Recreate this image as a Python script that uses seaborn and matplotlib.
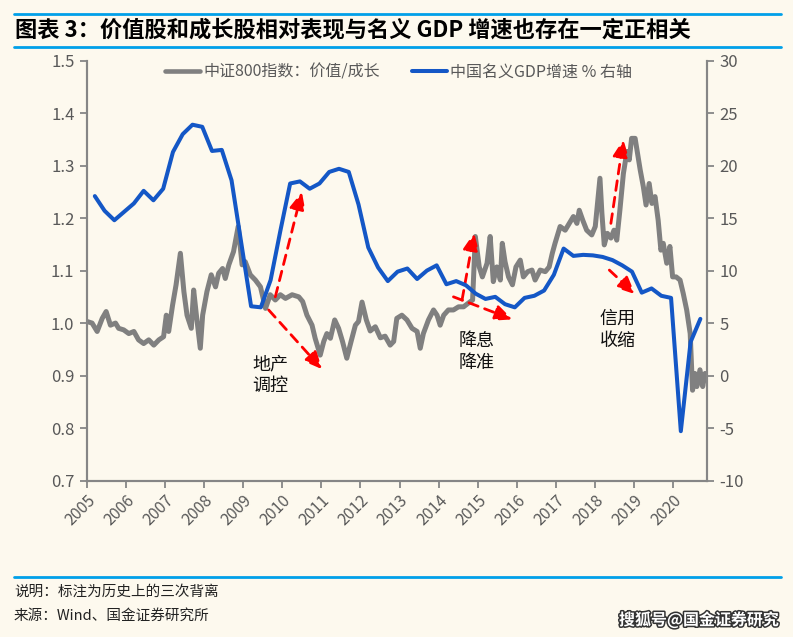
import numpy as np
import pandas as pd
import matplotlib
matplotlib.use("Agg")
import matplotlib.pyplot as plt
import seaborn as sns
from matplotlib.lines import Line2D
from matplotlib import patheffects as pe

# ---------------- data ----------------
# CSI 800 value / growth relative index (left axis): decimal year, value
ratio_t = [2005.00, 2005.13, 2005.26, 2005.39, 2005.49, 2005.60, 2005.73, 2005.81, 2005.94, 2006.07,
           2006.20, 2006.32, 2006.45, 2006.58, 2006.71, 2006.84, 2006.96, 2007.03, 2007.09, 2007.19,
           2007.28, 2007.39, 2007.48, 2007.56, 2007.67, 2007.73, 2007.80, 2007.90, 2007.96, 2008.07,
           2008.18, 2008.29, 2008.37, 2008.47, 2008.54, 2008.63, 2008.75, 2008.87, 2008.97, 2009.05,
           2009.18, 2009.31, 2009.44, 2009.57, 2009.69, 2009.82, 2009.95, 2010.08, 2010.25, 2010.42,
           2010.52, 2010.63, 2010.76, 2010.84, 2010.97, 2011.06, 2011.14, 2011.23, 2011.34, 2011.44,
           2011.54, 2011.65, 2011.76, 2011.87, 2011.95, 2012.04, 2012.15, 2012.25, 2012.38, 2012.51,
           2012.63, 2012.76, 2012.85, 2012.93, 2013.06, 2013.19, 2013.32,
           2013.45, 2013.53, 2013.61, 2013.74, 2013.87, 2013.96, 2014.04, 2014.13, 2014.25, 2014.38,
           2014.51, 2014.64, 2014.76, 2014.87, 2014.94, 2015.04, 2015.12, 2015.24, 2015.32, 2015.40,
           2015.49, 2015.58, 2015.63, 2015.70, 2015.79, 2015.89, 2015.98, 2016.09, 2016.17, 2016.28,
           2016.39, 2016.47, 2016.60, 2016.73, 2016.83, 2016.91, 2016.98, 2017.11, 2017.24, 2017.37,
           2017.45, 2017.54, 2017.60, 2017.69, 2017.79, 2017.92, 2018.01, 2018.06, 2018.13, 2018.18,
           2018.24, 2018.32, 2018.41, 2018.49, 2018.56, 2018.64, 2018.73, 2018.82, 2018.88, 2018.94,
           2019.03, 2019.09, 2019.16, 2019.24, 2019.31, 2019.39, 2019.46, 2019.54, 2019.62, 2019.69,
           2019.75, 2019.84, 2019.92, 2019.99, 2020.08, 2020.18, 2020.26, 2020.35, 2020.44, 2020.50,
           2020.56, 2020.61, 2020.69, 2020.76, 2020.82]
ratio_v = [1.003, 1.000, 0.984, 1.009, 1.022, 0.996, 1.000, 0.990, 0.987, 0.980,
           0.984, 0.968, 0.961, 0.968, 0.958, 0.968, 0.974, 1.015, 0.984, 1.034,
           1.073, 1.133, 1.060, 1.015, 0.990, 1.063, 1.015, 0.952, 1.015, 1.060,
           1.092, 1.069, 1.095, 1.104, 1.085, 1.111, 1.136, 1.184, 1.111, 1.117,
           1.092, 1.082, 1.069, 1.028, 1.054, 1.044, 1.054, 1.047, 1.054, 1.050,
           1.041, 1.015, 0.996, 0.971, 0.939, 0.965, 0.980, 0.971, 1.006, 0.990,
           0.965, 0.933, 0.965, 0.996, 1.003, 1.040, 1.006, 0.985, 0.993, 0.972,
           0.975, 0.958, 0.965, 1.009, 1.015, 1.006, 0.990,
           0.984, 0.952, 0.980, 1.006, 1.025, 1.015, 0.996, 1.015, 1.025, 1.025,
           1.031, 1.031, 1.038, 1.044, 1.165, 1.107, 1.088, 1.114, 1.165, 1.079,
           1.107, 1.082, 1.152, 1.117, 1.088, 1.073, 1.107, 1.120, 1.088, 1.098,
           1.101, 1.082, 1.101, 1.098, 1.107, 1.133, 1.152, 1.184, 1.177, 1.193,
           1.203, 1.190, 1.215, 1.196, 1.177, 1.168, 1.184, 1.222, 1.276, 1.209,
           1.149, 1.171, 1.162, 1.177, 1.158, 1.215, 1.285, 1.327, 1.311, 1.352,
           1.352, 1.324, 1.292, 1.260, 1.225, 1.266, 1.228, 1.241, 1.196, 1.139,
           1.152, 1.114, 1.146, 1.088, 1.088, 1.082, 1.057, 1.025, 0.980, 0.872,
           0.904, 0.879, 0.911, 0.879, 0.904]

# China nominal GDP growth, single quarter yoy % (right axis), 2005Q1 .. 2020Q3
gdp_start = "2005Q1"
gdp_v = [17.1, 15.7, 14.8, 15.6, 16.4, 17.6, 16.7, 17.8, 21.3, 23.0,
         23.9, 23.7, 21.4, 21.5, 18.6, 12.6, 6.6, 6.5, 9.1, 13.8,
         18.3, 18.5, 17.8, 18.3, 19.4, 19.7, 19.4, 16.3, 12.2, 10.3,
         9.0, 9.9, 10.2, 9.2, 10.0, 10.5, 8.7, 9.0, 8.6, 7.8,
         7.3, 7.5, 6.8, 6.5, 7.4, 7.6, 8.1, 9.6, 12.1, 11.4,
         11.5, 11.45, 11.3, 11.0, 10.5, 9.9, 7.9, 8.3, 7.6, 7.4,
         -5.3, 3.2, 5.4]

years = list(range(2005, 2021))
year_labels = [str(y) for y in years]

series_names = ["中证800指数：价值/成长", "中国名义GDP增速 % 右轴"]

# annotations (arrow start, arrow end) in (year, left-axis value)
arrows = [((2009.82, 1.050), (2010.50, 1.250)),
          ((2009.65, 1.025), (2011.02, 0.912)),
          ((2014.60, 1.044), (2014.91, 1.172)),
          ((2014.38, 1.050), (2015.89, 1.007)),
          ((2018.41, 1.190), (2018.73, 1.350)),
          ((2018.37, 1.101), (2019.03, 1.055))]
notes = [("地产\n调控", 2009.69, 0.901),
         ("降息\n降准", 2014.96, 0.945),
         ("信用\n收缩", 2018.59, 0.987)]

# ---------------- frames ----------------
ratio_df = pd.DataFrame({"t": ratio_t, "v": ratio_v})
q = pd.period_range(gdp_start, periods=len(gdp_v), freq="Q")
gdp_df = pd.DataFrame({"t": q.year + q.quarter * 0.25 - 0.05, "v": gdp_v})

# ---------------- style ----------------
sns.set_theme(style="ticks")
plt.rcParams["font.family"] = ["Noto Sans CJK SC", "DejaVu Sans"]
plt.rcParams["axes.unicode_minus"] = False

BG = "#FDF9EE"
GRAY = "#808080"
BLUE = "#1457C6"
TXT = "#595959"
SPINE = "#868686"
RULE = "#00A0E9"

W, H = 793, 637
fig = plt.figure(figsize=(W / 100, H / 100), dpi=100, facecolor=BG)
ax = fig.add_axes([87 / W, (H - 480.5) / H, 620 / W, 419.8 / H])
ax.set_facecolor(BG)
ax2 = ax.twinx()

sns.lineplot(data=ratio_df, x="t", y="v", ax=ax, color=GRAY, linewidth=3.6,
             estimator=None, sort=False, legend=False)
sns.lineplot(data=gdp_df, x="t", y="v", ax=ax2, color=BLUE, linewidth=2.9,
             estimator=None, sort=False, legend=False)

ax.set_xlim(2005.0, 2020.87)
ax.set_ylim(0.7, 1.5)
ax2.set_ylim(-10, 30)
ax.set_yticks(np.arange(0.7, 1.51, 0.1))
ax.set_yticklabels([f"{v:.1f}" for v in np.arange(0.7, 1.51, 0.1)])
ax2.set_yticks(range(-10, 31, 5))
ax.set_xticks(years)
ax.set_xticklabels(year_labels, rotation=45, ha="right", rotation_mode="anchor")
ax.set_xlabel("")
ax.set_ylabel("")
ax2.set_ylabel("")

for a in (ax, ax2):
    for s in a.spines.values():
        s.set_color(SPINE)
        s.set_linewidth(1.5)
    a.spines["top"].set_visible(False)
    a.tick_params(colors=TXT, labelsize=12, length=5, width=1.3, pad=4)
    a.tick_params(axis="both", color=SPINE)
ax.tick_params(axis="x", labelsize=11.5, pad=3)

# arrows and notes
for (x0, y0), (x1, y1) in arrows:
    ax.annotate("", xy=(x1, y1), xytext=(x0, y0),
                arrowprops=dict(arrowstyle="-|>,head_length=0.7,head_width=0.32",
                                color="#FF0000", lw=2.0, linestyle=(0, (3.5, 2.5)),
                                shrinkA=0, shrinkB=0, mutation_scale=15))
for txt, x, y in notes:
    ax.text(x, y, txt, ha="center", va="center", fontsize=13, color="#111111",
            linespacing=1.25)

# legend
handles = [Line2D([], [], color=GRAY, lw=3.3), Line2D([], [], color=BLUE, lw=2.9)]
leg = ax.legend(handles, series_names, loc="center", bbox_to_anchor=(0.502, 0.973),
                ncol=2, frameon=False, fontsize=11.5, handlelength=2.2,
                handletextpad=0.2, columnspacing=2.0, labelcolor=TXT)

# header / footer
def hline(y):
    fig.add_artist(Line2D([14 / W, 781 / W], [1 - y / H] * 2, color=RULE, lw=2.0))

hline(14)
hline(47)
hline(577)
fig.text(15 / W, 1 - 30 / H, "图表 3：价值股和成长股相对表现与名义 GDP 增速也存在一定正相关",
         fontsize=16, fontweight="bold", style="italic", color="#000000", va="center", ha="left")
fig.text(14 / W, 1 - 592 / H, "说明：标注为历史上的三次背离", fontsize=10.5,
         color="#222222", va="center", ha="left")
fig.text(14 / W, 1 - 616 / H, "来源：Wind、国金证券研究所", fontsize=10.5,
         color="#222222", va="center", ha="left")
fig.text(779 / W, 1 - 620 / H, "搜狐号@国金证券研究", fontsize=11.5, fontweight="bold",
         color="white", va="center", ha="right",
         path_effects=[pe.withStroke(linewidth=2.2, foreground="#333333")])

fig.savefig("out.png", dpi=100, facecolor=BG)
